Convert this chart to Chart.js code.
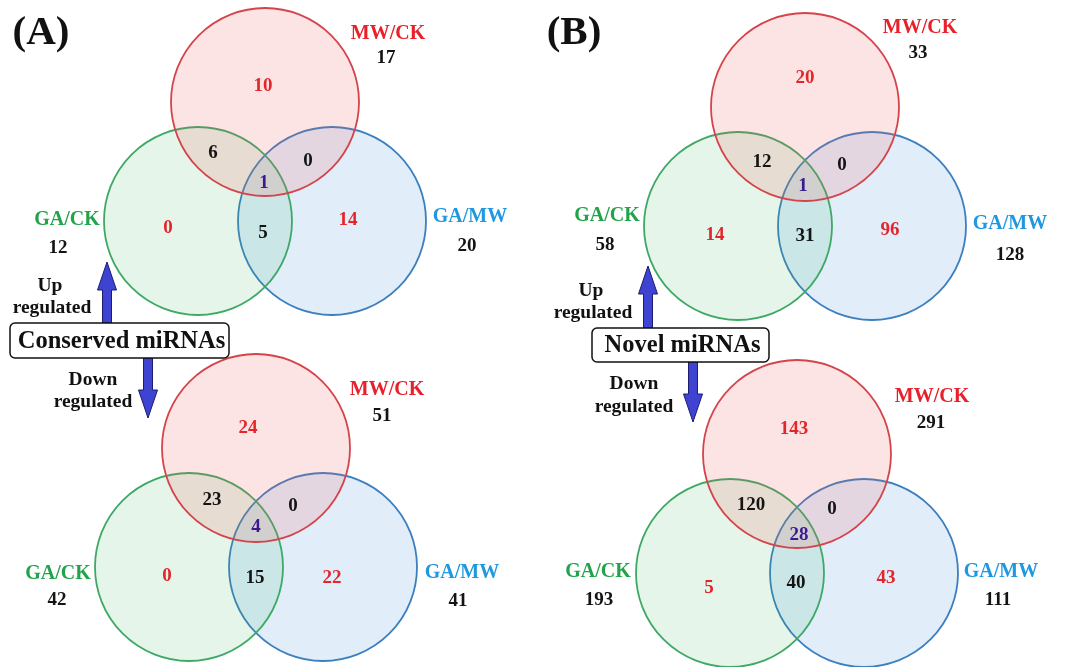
<!DOCTYPE html>
<html>
<head>
<meta charset="utf-8">
<script src="https://cdn.jsdelivr.net/npm/chart.js@4"></script>
<style>
  html, body { margin: 0; padding: 0; background: #ffffff; }
  #wrap { width: 1070px; height: 667px; }
</style>
</head>
<body>
<div id="wrap"><canvas id="venn" width="1070" height="667"></canvas></div>
<script>
// Differentially expressed miRNAs in three pairwise comparisons.
const setNames = ['MW/CK', 'GA/CK', 'GA/MW'];
const groupNames = ['Conserved miRNAs', 'Novel miRNAs'];
const panelLetters = ['(A)', '(B)'];

// Totals per comparison, in setNames order
const conservedUpTotals = [17, 12, 20];
const conservedDownTotals = [51, 42, 41];
const novelUpTotals = [33, 58, 128];
const novelDownTotals = [291, 193, 111];

// Region counts: MW/CK only, GA/CK only, GA/MW only,
// MW/CK∩GA/CK, MW/CK∩GA/MW, GA/CK∩GA/MW, all three
const conservedUpRegions = [10, 0, 14, 6, 0, 5, 1];
const conservedDownRegions = [24, 0, 22, 23, 0, 15, 4];
const novelUpRegions = [20, 14, 96, 12, 0, 31, 1];
const novelDownRegions = [143, 5, 43, 120, 0, 40, 28];

// ---- layout (canvas units) ----
const RADIUS = 94;
const circleOffsets = [[0, 0], [-67, 119], [67, 119]];
const venns = [
  { regions: conservedUpRegions, totals: conservedUpTotals, center: [265, 102],
    regionAt: [[-2, -16], [-97, 126], [83, 118], [-52, 51], [43, 59], [-2, 131], [-1, 81]],
    nameAt: [[388, 34], [67, 220], [470, 217]], totalAt: [[386, 58], [58, 248], [467, 246]] },
  { regions: conservedDownRegions, totals: conservedDownTotals, center: [256, 448],
    regionAt: [[-8, -20], [-89, 128], [76, 130], [-44, 52], [37, 58], [-1, 130], [0, 79]],
    nameAt: [[387, 390], [58, 574], [462, 573]], totalAt: [[382, 416], [57, 600], [458, 601]] },
  { regions: novelUpRegions, totals: novelUpTotals, center: [805, 107],
    regionAt: [[0, -29], [-90, 128], [85, 123], [-43, 55], [37, 58], [0, 129], [-2, 79]],
    nameAt: [[920, 28], [607, 216], [1010, 224]], totalAt: [[918, 53], [605, 245], [1010, 255]] },
  { regions: novelDownRegions, totals: novelDownTotals, center: [797, 454],
    regionAt: [[-3, -25], [-88, 134], [89, 124], [-46, 51], [35, 55], [-1, 129], [2, 81]],
    nameAt: [[932, 397], [598, 572], [1001, 572]], totalAt: [[931, 423], [599, 600], [998, 600]] }
];
const panels = [
  { letter: panelLetters[0], letterAt: [41, 33], group: groupNames[0], box: [10, 323, 229, 358],
    upArrow: [107, 262, 323], downArrow: [148, 358, 418],
    upText: [[50, 286], [52, 308]], downText: [[93, 380], [93, 402]] },
  { letter: panelLetters[1], letterAt: [574, 33], group: groupNames[1], box: [592, 328, 769, 362],
    upArrow: [648, 266, 328], downArrow: [693, 362, 422],
    upText: [[591, 291], [593, 313]], downText: [[634, 384], [634, 407]] }
];

const setFill = ['rgba(240, 90, 90, 0.165)', 'rgba(60, 180, 100, 0.135)', 'rgba(70, 150, 225, 0.16)'];
const setStroke = ['#d4444b', '#3ea865', '#3c7fbf'];
const setNameColor = ['#e8202a', '#22a34b', '#1f98e0'];
const regionColor = ['#e3262b', '#e3262b', '#e3262b', '#141414', '#141414', '#141414', '#3b1a8e'];
const SERIF = '"Liberation Serif", "DejaVu Serif", serif';

const datasets = setNames.map((name, s) => ({
  label: name,
  data: venns.map(v => ({ x: v.center[0] + circleOffsets[s][0], y: v.center[1] + circleOffsets[s][1], r: RADIUS })),
  backgroundColor: setFill[s],
  borderColor: setStroke[s],
  borderWidth: 1.8,
  hoverRadius: 0,
  clip: false
}));

function drawArrow(ctx, x, yFrom, yTo) {
  // shaft from yFrom, head pointing at yTo
  const dir = yTo < yFrom ? -1 : 1;
  const shaftHalf = 4.5, headHalf = 9.5, headLen = 28;
  const yHead = yTo - dir * headLen;
  ctx.beginPath();
  ctx.moveTo(x - shaftHalf, yFrom);
  ctx.lineTo(x - shaftHalf, yHead);
  ctx.lineTo(x - headHalf, yHead);
  ctx.lineTo(x, yTo);
  ctx.lineTo(x + headHalf, yHead);
  ctx.lineTo(x + shaftHalf, yHead);
  ctx.lineTo(x + shaftHalf, yFrom);
  ctx.closePath();
  ctx.fillStyle = '#3f43d2';
  ctx.fill();
  ctx.strokeStyle = '#1c1d6e';
  ctx.lineWidth = 1;
  ctx.stroke();
}

const vennText = {
  id: 'vennText',
  afterDatasetsDraw(chart) {
    const { ctx } = chart;
    const sx = chart.scales.x, sy = chart.scales.y;
    const px = v => sx.getPixelForValue(v), py = v => sy.getPixelForValue(v);
    ctx.save();
    ctx.textAlign = 'center';
    ctx.textBaseline = 'middle';

    venns.forEach(v => {
      ctx.font = `bold 19px ${SERIF}`;
      v.regions.forEach((n, i) => {
        ctx.fillStyle = regionColor[i];
        ctx.fillText(String(n), px(v.center[0] + v.regionAt[i][0]), py(v.center[1] + v.regionAt[i][1]));
      });
      setNames.forEach((name, s) => {
        ctx.font = `bold 20px ${SERIF}`;
        ctx.fillStyle = setNameColor[s];
        ctx.fillText(name, px(v.nameAt[s][0]), py(v.nameAt[s][1]));
        ctx.font = `bold 19px ${SERIF}`;
        ctx.fillStyle = '#141414';
        ctx.fillText(String(v.totals[s]), px(v.totalAt[s][0]), py(v.totalAt[s][1]));
      });
    });

    panels.forEach(p => {
      ctx.fillStyle = '#111111';
      ctx.font = `bold 41px ${SERIF}`;
      ctx.fillText(p.letter, px(p.letterAt[0]), py(p.letterAt[1]));

      drawArrow(ctx, px(p.upArrow[0]), py(p.upArrow[2]), py(p.upArrow[1]));
      drawArrow(ctx, px(p.downArrow[0]), py(p.downArrow[1]), py(p.downArrow[2]));

      const [x0, y0, x1, y1] = p.box;
      ctx.beginPath();
      ctx.roundRect(px(x0), py(y0), px(x1) - px(x0), py(y1) - py(y0), 5);
      ctx.fillStyle = '#ffffff';
      ctx.fill();
      ctx.strokeStyle = '#111111';
      ctx.lineWidth = 1.5;
      ctx.stroke();
      ctx.fillStyle = '#111111';
      ctx.font = `bold 24.5px ${SERIF}`;
      ctx.fillText(p.group, px((x0 + x1) / 2 + 2), py((y0 + y1) / 2 + 1));

      ctx.font = `bold 19.5px ${SERIF}`;
      ctx.fillText('Up', px(p.upText[0][0]), py(p.upText[0][1]));
      ctx.fillText('regulated', px(p.upText[1][0]), py(p.upText[1][1]));
      ctx.fillText('Down', px(p.downText[0][0]), py(p.downText[0][1]));
      ctx.fillText('regulated', px(p.downText[1][0]), py(p.downText[1][1]));
    });
    ctx.restore();
  }
};

new Chart(document.getElementById('venn'), {
  type: 'bubble',
  data: { datasets },
  options: {
    responsive: false,
    devicePixelRatio: 1,
    animation: false,
    events: [],
    layout: { padding: 0, autoPadding: false },
    scales: {
      x: { type: 'linear', min: 0, max: 1070, display: false },
      y: { type: 'linear', min: 0, max: 667, reverse: true, display: false }
    },
    plugins: { legend: { display: false }, tooltip: { enabled: false } }
  },
  plugins: [vennText]
});
</script>
</body>
</html>
